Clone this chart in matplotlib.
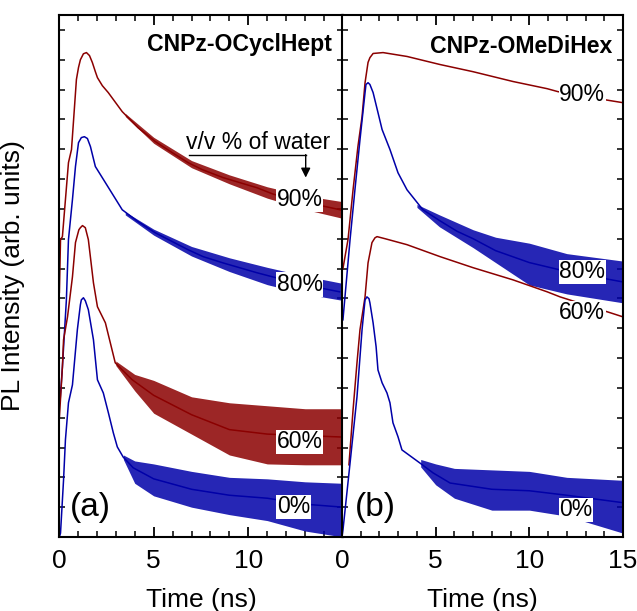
from __future__ import annotations

import matplotlib

matplotlib.use("Agg")
import matplotlib.pyplot as plt
from matplotlib.ticker import MultipleLocator

RED = "#8b0000"
BLUE = "#0000a8"

# ---- panel (a): CNPz-OCyclHept -------------------------------------------
# time in ns, intensity in arbitrary (offset) units
a90_t = [0.02, 0.08, 0.18, 0.5, 0.66, 0.76, 0.92, 1.03, 1.13, 1.29, 1.45, 1.61, 1.76, 1.92,
         2.03, 2.29, 2.6, 3.34, 4.18, 5.08, 5.97, 6.82, 7.55, 8.66, 9.55, 10.45, 11.29, 12.7,
         14.13, 15.0]
a90_y = [8.2, 9.97, 10.07, 12.55, 12.99, 13.89, 15.34, 15.74, 16.0, 16.2, 16.24, 16.14, 15.91,
         15.6, 15.40, 15.13, 14.9, 14.26, 13.72, 13.26, 12.89, 12.55, 12.32, 12.05, 11.88, 11.71,
         11.5, 11.25, 11.07, 10.95]
a90_bt = [3.5, 5.0, 7.0, 9.0, 11.0, 13.0, 15.0]
a90_lo = [14.1, 13.2, 12.38, 11.84, 11.36, 10.98, 10.68]
a90_hi = [14.2, 13.4, 12.62, 12.14, 11.74, 11.44, 11.24]

a80_t = [0.05, 0.18, 0.39, 0.5, 0.71, 0.87, 1.03, 1.18, 1.34, 1.5, 1.66, 1.92, 2.45, 3.34,
         4.18, 5.08, 6.82, 7.61, 8.66, 10.45, 11.29, 13.0, 14.82]
a80_y = [4.5, 5.70, 7.95, 9.97, 11.31, 12.42, 13.22, 13.39, 13.42, 13.36, 13.09, 12.42, 11.88,
         10.97, 10.57, 10.20, 9.63, 9.40, 9.19, 8.86, 8.72, 8.45, 8.22]
a80_bt = [3.5, 5.0, 7.0, 9.0, 11.0, 13.0, 15.0]
a80_lo = [10.8, 10.12, 9.42, 8.9, 8.46, 8.15, 7.93]
a80_hi = [10.9, 10.32, 9.74, 9.36, 9.04, 8.75, 8.5]

a60_t = [0.02, 0.18, 0.24, 0.45, 0.71, 0.87, 1.05, 1.13, 1.24, 1.39, 1.55, 1.82, 2.03, 2.45,
         2.71, 2.97, 3.34, 3.87, 5.0, 7.0, 9.0, 11.0, 13.0, 15.0]
a60_y = [4.0, 5.7, 6.61, 7.38, 8.72, 9.87, 10.3, 10.37, 10.44, 10.37, 9.97, 8.52, 7.72, 7.18,
         6.51, 5.84, 5.60, 5.27, 4.75, 4.1, 3.6, 3.45, 3.4, 3.35]
a60_bt = [3.0, 4.0, 5.0, 7.0, 9.0, 11.0, 13.0, 15.0]
a60_lo = [5.75, 4.9, 4.15, 3.45, 2.75, 2.45, 2.42, 2.42]
a60_hi = [5.9, 5.45, 5.25, 4.7, 4.5, 4.4, 4.3, 4.3]

a0_t = [0.02, 0.08, 0.24, 0.34, 0.5, 0.71, 0.97, 1.13, 1.18, 1.29, 1.39, 1.55, 1.82, 2.03,
        2.34, 2.61, 2.87, 3.08, 3.39, 3.92, 5.0, 7.0, 9.0, 11.0, 13.0, 15.0]
a0_y = [0.0, 0.13, 1.91, 3.26, 4.50, 5.10, 6.95, 7.79, 7.95, 8.02, 7.92, 7.62, 6.61, 5.27,
        4.83, 4.16, 3.49, 3.02, 2.68, 2.32, 1.95, 1.6, 1.4, 1.3, 1.1, 1.0]
a0_bt = [3.4, 4.0, 5.0, 7.0, 9.0, 11.0, 13.0, 15.0]
a0_lo = [2.6, 1.8, 1.38, 1.0, 0.75, 0.55, 0.2, 0.0]
a0_hi = [2.75, 2.55, 2.45, 2.2, 2.0, 1.95, 1.85, 1.8]

# ---- panel (b): CNPz-OMeDiHex --------------------------------------------
b90_t = [0.05, 0.32, 0.59, 0.85, 1.07, 1.23, 1.39, 1.49, 1.66, 2.19, 3.47, 5.23, 6.99, 9.13,
         10.95, 11.53, 14.31, 15.0]
b90_y = [9.0, 9.97, 11.64, 13.09, 14.09, 15.23, 15.91, 16.07, 16.21, 16.24, 16.11, 15.84,
         15.60, 15.27, 15.03, 14.93, 14.63, 14.56]

b80_t = [0.05, 0.43, 0.69, 0.96, 1.23, 1.28, 1.39, 1.49, 1.66, 1.92, 2.14, 2.56, 2.99, 3.47,
         4.32, 5.23, 6.14, 7.0, 8.2, 10.0, 12.0, 15.0]
b80_y = [7.28, 9.97, 11.64, 13.32, 14.90, 15.17, 15.23, 15.17, 14.90, 14.23, 13.66, 12.99,
         12.21, 11.64, 10.97, 10.60, 10.25, 10.0, 9.6, 9.2, 8.9, 8.55]
b80_bt = [4.0, 5.2, 7.0, 8.2, 10.0, 12.0, 15.0]
b80_lo = [11.05, 10.4, 9.7, 9.2, 8.45, 8.15, 7.85]
b80_hi = [11.15, 10.8, 10.3, 10.05, 9.85, 9.5, 9.25]

b60_t = [0.37, 0.59, 0.80, 0.96, 1.23, 1.39, 1.6, 1.76, 1.87, 2.30, 3.47, 5.23, 6.99, 9.13,
         10.95, 11.64, 14.31, 15.0]
b60_y = [2.42, 4.26, 5.84, 6.95, 8.05, 9.19, 9.87, 10.03, 10.07, 10.0, 9.80, 9.40, 9.03,
         8.62, 8.22, 8.05, 7.52, 7.38]

b0_t = [0.0, 0.05, 0.43, 0.80, 1.07, 1.23, 1.33, 1.44, 1.49, 1.66, 1.82, 1.92, 2.14, 2.40,
        2.56, 2.72, 2.99, 3.20, 4.16, 4.86, 5.77, 8.0, 10.0, 12.0, 15.0]
b0_y = [0.0, 0.23, 2.48, 4.70, 6.95, 7.95, 8.05, 7.99, 7.85, 7.18, 6.38, 5.60, 5.17, 4.83,
        4.50, 3.83, 3.36, 2.92, 2.48, 2.15, 1.81, 1.6, 1.55, 1.4, 1.15]
b0_bt = [4.2, 5.0, 6.0, 8.0, 10.0, 12.0, 15.0]
b0_lo = [2.35, 1.75, 1.3, 0.9, 0.9, 0.7, 0.13]
b0_hi = [2.6, 2.45, 2.3, 2.25, 2.2, 2.0, 1.9]

a_labels = ["90%", "80%", "60%", "0%"]
a_label_y = [11.31, 8.46, 3.19, 1.01]
b_labels = ["90%", "80%", "60%", "0%"]
b_label_y = [14.83, 8.89, 7.52, 0.91]


def draw_trace(ax, t, y, color, band=None):
    ax.plot(t, y, color=color, linewidth=1.1, zorder=2, solid_joinstyle="round")
    if band is not None:
        bt, lo, hi = band
        ax.fill_between(bt, lo, hi, color=color, alpha=0.85, linewidth=0, zorder=2)


def style_axes(ax, xticklabels):
    ax.set_xlim(0, 15)
    ax.set_ylim(0, 17.5)
    ax.xaxis.set_major_locator(MultipleLocator(5))
    ax.xaxis.set_minor_locator(MultipleLocator(1))
    ax.yaxis.set_major_locator(MultipleLocator(1))
    ax.set_xticks([0, 5, 10, 15])
    ax.set_xticklabels(xticklabels)
    ax.set_yticklabels([])
    ax.tick_params(axis="x", which="major", direction="in", length=7, width=1.3,
                   top=True, labelsize=19, pad=9)
    ax.tick_params(axis="x", which="minor", direction="in", length=4, width=1.1, top=True)
    ax.tick_params(axis="y", which="major", direction="in", length=4, width=1.1,
                   left=True, right=True)
    for spine in ax.spines.values():
        spine.set_linewidth(1.5)
    ax.set_xlabel("Time (ns)", fontsize=19)
    ax.xaxis.set_label_coords(0.5, -0.098)


def add_labels(ax, labels, ys, x):
    for text, y in zip(labels, ys):
        ax.text(x, y, text, fontsize=16.5, ha="left", va="center", zorder=5,
                bbox=dict(facecolor="white", edgecolor="none", pad=0.5))


def main() -> None:
    plt.rcParams["font.family"] = ["Liberation Sans", "DejaVu Sans"]

    fig = plt.figure(figsize=(6.37, 6.11), dpi=100)
    ax_a = fig.add_axes([59 / 637, 74 / 611, 284 / 637, 522 / 611])
    ax_b = fig.add_axes([342 / 637, 74 / 611, 281 / 637, 522 / 611])

    draw_trace(ax_a, a90_t, a90_y, RED, (a90_bt, a90_lo, a90_hi))
    draw_trace(ax_a, a80_t, a80_y, BLUE, (a80_bt, a80_lo, a80_hi))
    draw_trace(ax_a, a60_t, a60_y, RED, (a60_bt, a60_lo, a60_hi))
    draw_trace(ax_a, a0_t, a0_y, BLUE, (a0_bt, a0_lo, a0_hi))

    draw_trace(ax_b, b90_t, b90_y, RED)
    draw_trace(ax_b, b80_t, b80_y, BLUE, (b80_bt, b80_lo, b80_hi))
    draw_trace(ax_b, b60_t, b60_y, RED)
    draw_trace(ax_b, b0_t, b0_y, BLUE, (b0_bt, b0_lo, b0_hi))

    style_axes(ax_a, ["0", "5", "10", ""])
    style_axes(ax_b, ["0", "5", "10", "15"])

    ax_a.set_ylabel("PL Intensity (arb. units)", fontsize=19)
    ax_a.yaxis.set_label_coords(-0.12, 0.5)

    add_labels(ax_a, a_labels, a_label_y, 11.5)
    add_labels(ax_b, b_labels, b_label_y, 11.6)

    ax_a.text(0.961, 0.943, "CNPz-OCyclHept", transform=ax_a.transAxes, fontsize=16.6,
              fontweight="bold", ha="right", va="center")
    ax_b.text(0.961, 0.939, "CNPz-OMeDiHex", transform=ax_b.transAxes, fontsize=16.6,
              fontweight="bold", ha="right", va="center")
    ax_a.text(0.039, 0.057, "(a)", transform=ax_a.transAxes, fontsize=24,
              ha="left", va="center")
    ax_b.text(0.046, 0.057, "(b)", transform=ax_b.transAxes, fontsize=24,
              ha="left", va="center")

    # v/v % of water annotation with bent arrow
    ax_a.text(10.5, 13.22, "v/v % of water", fontsize=16.5, ha="center", va="center")
    ax_a.plot([6.87, 13.03], [12.82, 12.82], color="black", linewidth=1.0)
    ax_a.annotate("", xy=(13.03, 12.05), xytext=(13.03, 12.82),
                  arrowprops=dict(arrowstyle="-|>", color="black", lw=1.0,
                                  mutation_scale=14, shrinkA=0, shrinkB=0))

    fig.savefig("out.png", dpi=100)
    plt.close(fig)


if __name__ == "__main__":
    main()
